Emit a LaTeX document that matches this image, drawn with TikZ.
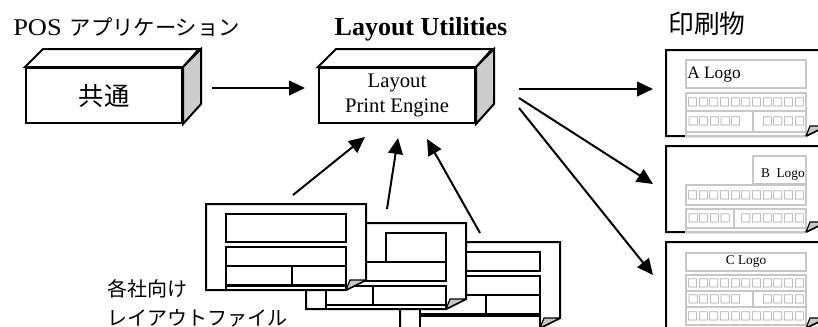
\documentclass[tikz,border=0pt]{standalone}
\usepackage{fontspec}
\setmainfont{Liberation Serif}
\newfontfamily\jp{Noto Sans CJK JP}
\usetikzlibrary{arrows.meta}
\definecolor{sidegray}{gray}{0.80}
\definecolor{flapgray}{gray}{0.78}
\definecolor{inngray}{gray}{0.78}
\definecolor{sqgray}{gray}{0.35}
\tikzset{
  face/.style={draw=black, line width=1.5pt, line join=miter},
  arr/.style={line width=1.5pt, -{Triangle[length=12pt,width=11pt]}},
  pg/.style={draw=black, line width=1.5pt, fill=white, line join=miter},
  flap/.style={draw=black, line width=0.9pt, fill=flapgray, line join=round},
  inb/.style={draw=black, line width=1.5pt},
  ing/.style={draw=inngray, line width=1.3pt},
  sq/.style={font=\jp\fontsize{8}{8}\selectfont, text=sqgray, inner sep=0pt},
  ttl/.style={inner sep=0pt},
}
\newcommand\pageframe{%
  \path[pg] (0,0) -- (160,0) -- (160,76) -- (140,86) -- (0,86) -- cycle;}
\newcommand\pageflap{%
  \path[flap] (140,86) -- (144,76) -- (160,76) -- cycle;}
\begin{document}
\begin{tikzpicture}[x=0.75pt,y=-0.75pt]
\useasboundingbox (0,0) rectangle (818,326);
\clip (0,0) rectangle (818,326);

% ---------- titles ----------
\node[ttl, anchor=base west, font=\fontsize{18}{21}\selectfont] (tpos) at (13,35) {\scalebox{1.1}[1]{POS}\hspace{6pt}{\jp\fontsize{16}{19}\selectfont アプリケーション}};
\node[ttl, anchor=base, font=\bfseries\fontsize{19.5}{23}\selectfont] (tlu) at (421,35) {Layout Utilities};
\node[ttl, anchor=base west, font=\jp\fontsize{19.3}{23}\selectfont] (tprint) at (668,33) {印刷物};

% ---------- box 1 ----------
\node[face, fill=white, minimum width=117pt, minimum height=41.25pt, inner sep=0pt,
      font=\jp\fontsize{19}{23}\selectfont] (b1) at (104,95.5) {共通};
\draw[face, fill=white] (b1.north west) -- ++(18,-18) -- ++(156,0) -- (b1.north east) -- cycle;
\draw[face, fill=sidegray] (b1.north east) -- ++(18,-18) -- ++(0,55) -- (b1.south east) -- cycle;

% ---------- box 2 ----------
\node[face, fill=white, minimum width=117pt, minimum height=41.25pt, inner sep=0pt, align=center,
      font=\fontsize{15.5}{18.7}\selectfont] (b2) at (397,95.5) {Layout\\Print Engine};
\draw[face, fill=white] (b2.north west) -- ++(18,-18) -- ++(156,0) -- (b2.north east) -- cycle;
\draw[face, fill=sidegray] (b2.north east) -- ++(18,-18) -- ++(0,55) -- (b2.south east) -- cycle;

% ---------- stacked layout files ----------
% sheet 3 (back)
\begin{scope}[shift={(400,242)}]
  \coordinate (s3) at (0,0);
  \pageframe
  \draw[inb] (20,10) rectangle (140,29);
  \draw[inb] (20,34) rectangle (140,53);
  \draw[inb] (20,53) rectangle (86,72) (86,53) rectangle (140,72);
  \draw[inb] (20,74) rectangle (140,86);
  \pageflap
\end{scope}
% sheet 2
\begin{scope}[shift={(306,223)}]
  \coordinate (s2) at (0,0);
  \pageframe
  \draw[inb] (80,10) rectangle (140,39);
  \draw[inb] (20,39) rectangle (140,58);
  \draw[inb] (20,63) rectangle (67,82) (67,63) rectangle (140,82);
  \draw[inb] (20,82) rectangle (140,86);
  \pageflap
\end{scope}
% sheet 1 (front)
\begin{scope}[shift={(206,204)}]
  \coordinate (s1) at (0,0);
  \pageframe
  \draw[inb] (20,10) rectangle (140,38);
  \draw[inb] (20,43) rectangle (140,62);
  \draw[inb] (20,62) rectangle (86,81) (86,62) rectangle (140,81);
  \draw[inb] (20,82) rectangle (140,86);
  \pageflap
\end{scope}

\node[ttl, anchor=west, align=left, font=\jp\fontsize{15}{21.5}\selectfont] (lbl) at (107,303) {各社向け\\レイアウトファイル};

% ---------- printed documents ----------
% A
\begin{scope}[shift={(666,50)}]
  \coordinate (dA) at (0,0);
  \pageframe
  \draw[ing] (20,10) rectangle (140,38);
  \draw[ing] (20,43) rectangle (140,61);
  \draw[ing] (20,61) rectangle (87,82) (87,61) rectangle (140,82);
  \draw[ing] (20,82) rectangle (140,86);
  \node[ttl, anchor=base west, font=\fontsize{13}{15}\selectfont] (lA) at (21,28) {A Logo};
  \node[sq] (qA1) at (80,52) {□□□□□□□□□□□};
  \node[sq, anchor=west] (qA2) at (21.5,71.5) {□□□□□};
  \node[sq, anchor=east] (qA3) at (139,71.5) {□□□□};
  \pageflap
\end{scope}
% B
\begin{scope}[shift={(666,146)}]
  \coordinate (dB) at (0,0);
  \pageframe
  \draw[ing] (87,10) rectangle (140,38);
  \draw[ing] (20,39) rectangle (140,59);
  \draw[ing] (20,63) rectangle (68,82) (68,63) rectangle (140,82);
  \draw[ing] (20,82) rectangle (140,86);
  \node[ttl, anchor=base east, font=\fontsize{10}{12}\selectfont] (lB) at (139,31) {B~~Logo};
  \node[sq] (qB1) at (80,49) {□□□□□□□□□□□};
  \node[sq, anchor=west] (qB2) at (21.5,72.5) {□□□□};
  \node[sq, anchor=east] (qB3) at (139,72.5) {□□□□□□};
  \pageflap
\end{scope}
% C
\begin{scope}[shift={(666,242)}]
  \coordinate (dC) at (0,0);
  \pageframe
  \draw[ing] (20,11) rectangle (140,29);
  \draw[ing] (20,33) rectangle (140,49);
  \draw[ing] (20,49) rectangle (87,65) (87,49) rectangle (140,65);
  \draw[ing] (20,65) rectangle (140,83);
  \node[ttl, anchor=base, font=\fontsize{10}{12}\selectfont] (lC) at (80,22) {C Logo};
  \node[sq] (qC1) at (80,41) {□□□□□□□□□□□};
  \node[sq, anchor=west] (qC2) at (21.5,57) {□□□□□};
  \node[sq, anchor=east] (qC3) at (139,57) {□□□□};
  \node[sq] (qC4) at (80,74) {□□□□□□□□□□□};
  \pageflap
\end{scope}

% ---------- arrows ----------
\coordinate (a1s) at (212,88);  \coordinate (a1e) at (305,88);
\draw[arr] (a1s) -- (a1e);

\coordinate (i1s) at (293,195); \coordinate (i1e) at (365,137);
\coordinate (i2s) at (387,209); \coordinate (i2e) at (398,138);
\coordinate (i3s) at (480,233); \coordinate (i3e) at (427,139);
\draw[arr] (i1s) -- (i1e);
\draw[arr] (i2s) -- (i2e);
\draw[arr] (i3s) -- (i3e);

\coordinate (o1s) at (519,89);  \coordinate (o1e) at (653,89);
\coordinate (o2s) at (519,98);  \coordinate (o2e) at (653,184);
\coordinate (o3s) at (519,108); \coordinate (o3e) at (653,275);
\draw[arr] (o1s) -- (o1e);
\draw[arr] (o2s) -- (o2e);
\draw[arr] (o3s) -- (o3e);
\end{tikzpicture}
\end{document}
